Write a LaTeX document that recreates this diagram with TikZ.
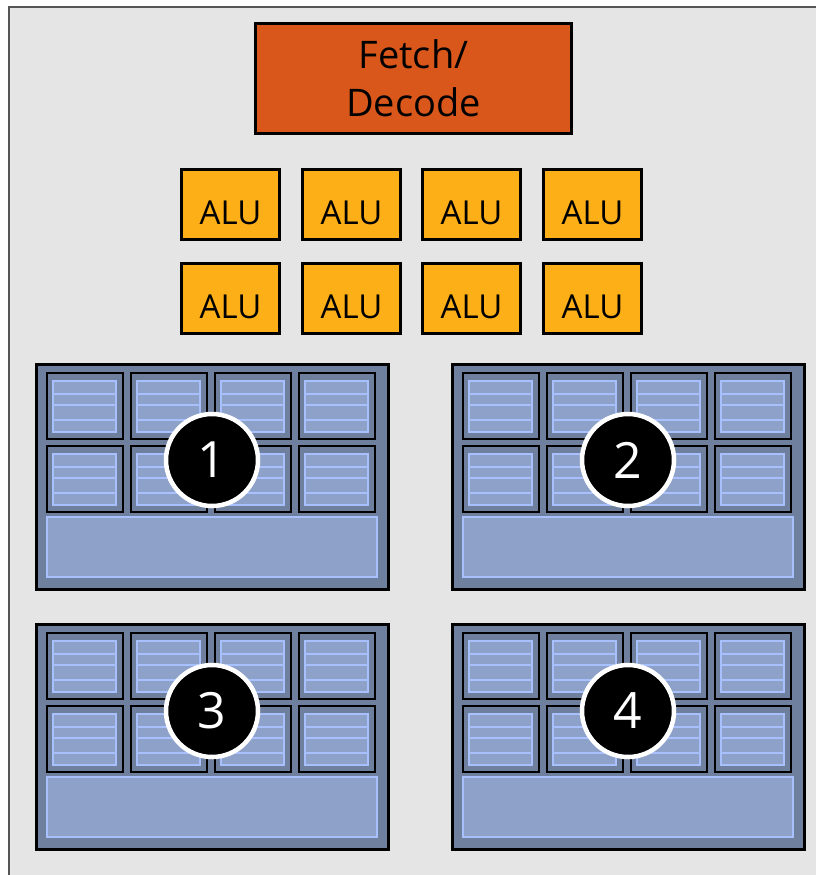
\documentclass[tikz,border=0pt]{standalone}
\usepackage{fontspec}
\setmainfont{Open Sans}
\definecolor{bgc}{HTML}{E5E5E5}
\definecolor{framec}{HTML}{555555}
\definecolor{fetchc}{HTML}{DA571B}
\definecolor{aluc}{HTML}{FDAF17}
\definecolor{blockc}{HTML}{6F7F9E}
\definecolor{innerc}{HTML}{8EA2C9}
\definecolor{linec}{HTML}{A9C0FF}
\tikzset{
  frame/.style={draw=framec, line width=2.5pt, fill=bgc},
  fetchbox/.style={draw=black, line width=3pt, fill=fetchc, minimum width=316pt, minimum height=110pt, inner sep=0pt, align=center, font=\fontsize{38}{48}\selectfont},
  alubox/.style={draw=black, line width=3pt, fill=aluc, minimum width=98pt, minimum height=70pt, inner sep=0pt, text height=39pt, text depth=0pt, font=\fontsize{33}{40}\selectfont},
  smblock/.style={draw=black, line width=3pt, fill=blockc},
  smcell/.style={draw=black, line width=2.5pt, fill=blockc},
  smcellin/.style={draw=linec, line width=1.8pt, fill=innerc},
  smbar/.style={draw=linec, line width=1.8pt, fill=innerc},
  numdisc/.style={circle, draw=white, line width=4.5pt, fill=black, minimum size=92pt, inner sep=0pt, text=white, font=\fontsize{50}{50}\selectfont},
  sm/.pic={
    \draw[smblock] (0,0) rectangle (352,225);
    \foreach \i in {0,...,3}{
      \foreach \j in {0,1}{
        \pgfmathsetmacro{\xa}{11+84*\i}
        \pgfmathsetmacro{\ya}{9+73*\j}
        \draw[smcell] (\xa,\ya) rectangle ++(76,66);
        \draw[smcellin] (\xa+6,\ya+8) rectangle ++(63,51);
        \draw[linec, line width=1.8pt] (\xa+6,\ya+21) -- ++(63,0)
              (\xa+6,\ya+32) -- ++(63,0)
              (\xa+6,\ya+47) -- ++(63,0);
      }
    }
    \draw[smbar] (11,153) rectangle (341,213);
  }
}
\begin{document}
\begin{tikzpicture}[x=1pt, y=-1pt]
\useasboundingbox (0,0) rectangle (815,875);
\draw[frame] (9,7) rectangle (840,900);
\node[fetchbox] (fetch) at (413.5,78.5) {Fetch/\\Decode};
\foreach \c/\xc in {1/230.5, 2/351.5, 3/471.5, 4/592.5}{
  \node[alubox] (alua\c) at (\xc,204.5) {ALU};
  \node[alubox] (alub\c) at (\xc,298.5) {ALU};
}
\pic (sma) at (36,364) {sm};
\pic (smb) at (452,364) {sm};
\pic (smc) at (36,624) {sm};
\pic (smd) at (452,624) {sm};
\node[numdisc] (num1) at (212,460) {1};
\node[numdisc] (num2) at (628,460) {2};
\node[numdisc] (num3) at (212,711) {3};
\node[numdisc] (num4) at (628,711) {4};
\end{tikzpicture}
\end{document}
